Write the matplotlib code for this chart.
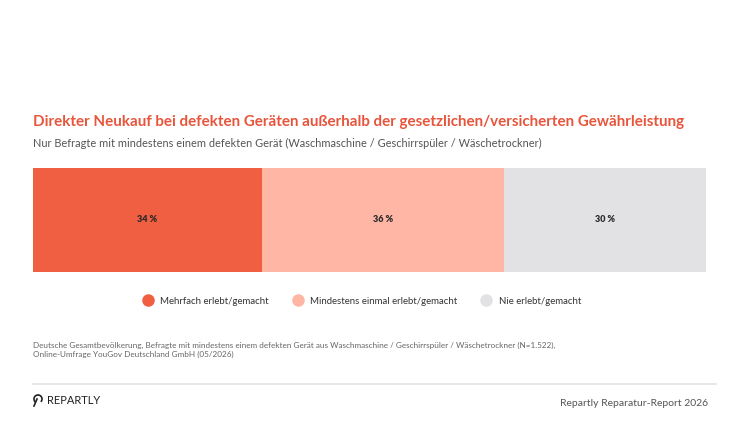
import matplotlib.pyplot as plt
from matplotlib.lines import Line2D
from matplotlib.patches import Arc

plt.rcParams['font.family'] = ['Lato', 'DejaVu Sans']

categories = ['Mehrfach erlebt/gemacht', 'Mindestens einmal erlebt/gemacht', 'Nie erlebt/gemacht']
values = [34, 36, 30]
colors = ['#f05f41', '#ffb6a4', '#e2e2e4']

title = 'Direkter Neukauf bei defekten Geräten außerhalb der gesetzlichen/versicherten Gewährleistung'
subtitle = 'Nur Befragte mit mindestens einem defekten Gerät (Waschmaschine / Geschirrspüler / Wäschetrockner)'
source = ('Deutsche Gesamtbevölkerung, Befragte mit mindestens einem defekten Gerät aus Waschmaschine / '
          'Geschirrspüler / Wäschetrockner (N=1.522),\nOnline-Umfrage YouGov Deutschland GmbH (05/2026)')

W, H = 750, 422
fig = plt.figure(figsize=(W / 100, H / 100), dpi=100)

# bar axes
ax = fig.add_axes([33 / W, 1 - 272 / H, 673 / W, 104 / H])
left = 0
for cat, v, c in zip(categories, values, colors):
    ax.barh(0, v, left=left, color=c, height=1, label=cat)
    ax.text(left + v / 2, 0, f'{v} %', ha='center', va='center',
            fontsize=6.5, fontweight='heavy', color='#2a2a2a')
    left += v
ax.set_xlim(0, sum(values))
ax.set_ylim(-0.5, 0.5)
ax.axis('off')

fig.text(33 / W, 1 - 122 / H, title, fontsize=10.9, fontweight='bold',
         color='#e8553c', va='center')
fig.text(33 / W, 1 - 143 / H, subtitle, fontsize=7.9, color='#555555', va='center')

handles = [Line2D([], [], marker='o', linestyle='', markersize=8,
                  markerfacecolor=c, markeredgecolor=c) for c in colors]
fig.legend(handles, categories, loc='center', bbox_to_anchor=(362 / W, 1 - 301 / H),
           ncol=3, frameon=False, fontsize=6.9, handlelength=1, handletextpad=0.8,
           columnspacing=2.5, labelcolor='#333333')

fig.text(33 / W, 1 - 350 / H, source, fontsize=5.9, color='#666666', va='center',
         linespacing=1.4)

fig.add_artist(Line2D([33 / W, 716 / W], [1 - 384 / H, 1 - 384 / H], color='#e3e3e3', lw=1.2))

# small logo mark
fig.add_artist(Arc((38 / W, 1 - 399 / H), 8 / W, 8 / H, theta1=-60, theta2=250,
                   color='#222222', lw=1.2))
fig.add_artist(Line2D([37 / W, 34 / W], [1 - 399 / H, 1 - 406 / H], color='#222222', lw=1.2))
fig.text(47 / W, 1 - 400 / H, 'REPARTLY', fontsize=8, color='#222222', va='center')
fig.text(708 / W, 1 - 403 / H, 'Repartly Reparatur-Report 2026', fontsize=7.5,
         color='#555555', va='center', ha='right')

fig.savefig('out.png', dpi=100)
